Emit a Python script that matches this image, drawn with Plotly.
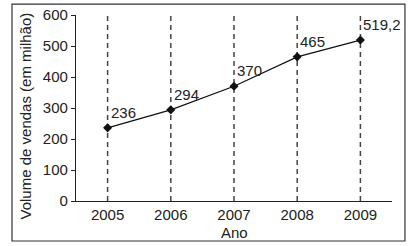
import plotly.graph_objects as go

years = [2005, 2006, 2007, 2008, 2009]
sales = [236, 294, 370, 465, 519.2]
labels = ["236", "294", "370", "465", "519,2"]
y_ticks = [0, 100, 200, 300, 400, 500, 600]

fig = go.Figure()

for yr in years:
    fig.add_shape(type="line", xref="x", yref="y", x0=yr, x1=yr, y0=0, y1=600,
                  line=dict(color="#444", width=1.5, dash="5px,4px"), layer="below")

fig.add_trace(go.Scatter(
    x=years, y=sales, mode="lines+markers",
    line=dict(color="#111", width=1.2),
    marker=dict(symbol="diamond", size=7, color="#111"),
    hoverinfo="skip", showlegend=False,
))

for yr, v, t in zip(years, sales, labels):
    fig.add_annotation(x=yr, y=v, text=t, showarrow=False, xanchor="left", yanchor="bottom",
                       xshift=1, yshift=5, font=dict(family="Liberation Sans, Arial", size=15, color="#222"))

fig.add_annotation(xref="paper", yref="paper", x=-0.161, y=0.455, text="Volume de vendas (em milhão)",
                   textangle=-90, showarrow=False, xanchor="center", yanchor="middle",
                   font=dict(family="Liberation Sans, Arial", size=15, color="#222"))

fig.add_annotation(xref="paper", yref="paper", x=0.5, y=-0.167, text="Ano",
                   showarrow=False, xanchor="center", yanchor="middle",
                   font=dict(family="Liberation Sans, Arial", size=15, color="#222"))

fig.add_shape(type="rect", xref="paper", yref="paper", x0=-0.2025, x1=1.041, y0=-0.215, y1=1.059,
              line=dict(color="#333", width=1.2), fillcolor="rgba(0,0,0,0)")

fig.update_layout(
    width=409, height=246,
    margin=dict(l=76, r=17, t=15, b=45),
    paper_bgcolor="white", plot_bgcolor="white",
    font=dict(family="Liberation Sans, Arial", size=15, color="#222"),
    xaxis=dict(range=[2004.5, 2009.5], tickvals=years, ticktext=[str(y) for y in years],
               showgrid=False, zeroline=False, showline=True, linecolor="#222", linewidth=1.2,
               ticks="", tickfont=dict(size=15), automargin=False),
    yaxis=dict(range=[0, 600], tickvals=y_ticks, showgrid=False, zeroline=False,
               showline=True, linecolor="#222", linewidth=1.2, ticks="outside", ticklen=4,
               tickcolor="#222", tickfont=dict(size=15), automargin=False),
)

fig.write_html("out.html")
